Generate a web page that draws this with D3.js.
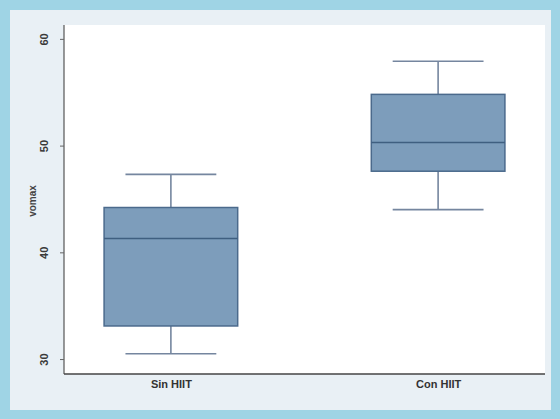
<!DOCTYPE html>
<html><head><meta charset="utf-8">
<script src="https://cdn.jsdelivr.net/npm/d3@7"></script>
<style>html,body{margin:0;padding:0;background:#9fd4e5;}svg{display:block;}</style>
</head><body>
<script>
const categories = ["Sin HIIT", "Con HIIT"];
const whiskerLow = [30.5, 44.0];
const q1 = [33.1, 47.6];
const median = [41.3, 50.3];
const q3 = [44.2, 54.8];
const whiskerHigh = [47.3, 57.9];
const yTicks = [30, 40, 50, 60];
const yLabel = "vomax";

const W = 560, H = 419;
const svg = d3.select("body").append("svg").attr("width", W).attr("height", H);
svg.append("rect").attr("width", W).attr("height", H).attr("fill", "#9fd4e5");
svg.append("rect").attr("x", 10).attr("y", 10).attr("width", 541).attr("height", 400).attr("fill", "#e9f0f5");
const plot = {l: 64, r: 545, t: 25, b: 374};
svg.append("rect").attr("x", plot.l).attr("y", plot.t).attr("width", plot.r - plot.l).attr("height", plot.b - plot.t).attr("fill", "#ffffff");

const y = d3.scaleLinear().domain([28.6, 61.3]).range([plot.b, plot.t]);
const x = d3.scalePoint().domain(categories).range([plot.l, plot.r]).padding(0.4);
const boxW = x.step() * 0.5;
const capW = x.step() * 0.34;

// Y axis
const yAxis = d3.axisLeft(y).tickValues(yTicks).tickSize(4).tickSizeOuter(0).tickFormat(d3.format("d"));
const ga = svg.append("g").attr("transform", `translate(${plot.l},0)`).call(yAxis);
ga.select(".domain").attr("stroke", "#555").attr("stroke-width", 1.2)
  .attr("d", `M0,${plot.t}V${plot.b}`);
ga.selectAll(".tick line").attr("stroke", "#666");
ga.selectAll(".tick text").attr("x", 0).attr("dy", 0)
  .attr("transform", "translate(-16,0) rotate(-90)")
  .attr("text-anchor", "middle")
  .style("font-family", "Liberation Sans, Arial, sans-serif").style("font-size", "11px").style("font-weight", "bold").attr("fill", "#3a3a3a");

// X axis
const xAxis = d3.axisBottom(x).tickSize(0).tickSizeOuter(0);
const gx = svg.append("g").attr("transform", `translate(0,${plot.b})`).call(xAxis);
gx.select(".domain").attr("stroke", "#444").attr("stroke-width", 1.5).attr("d", `M${plot.l},0H${plot.r}`);
gx.selectAll(".tick text").attr("dy", 0).attr("y", 14)
  .style("font-family", "Liberation Sans, Arial, sans-serif").style("font-size", "11px").style("font-weight", "bold").attr("fill", "#333");

svg.append("text").attr("transform", `translate(36,${(y(30)+y(60))/2+2}) rotate(-90)`)
  .attr("text-anchor", "middle")
  .style("font-family", "Liberation Sans, Arial, sans-serif").style("font-size", "10px").style("font-weight", "bold").attr("fill", "#444").text(yLabel);

const data = categories.map((c, i) => ({c, lo: whiskerLow[i], q1: q1[i], med: median[i], q3: q3[i], hi: whiskerHigh[i]}));
const g = svg.selectAll(".box").data(data).enter().append("g");
const wcol = "#75869f";
g.append("line").attr("x1", d => x(d.c)).attr("x2", d => x(d.c)).attr("y1", d => y(d.hi)).attr("y2", d => y(d.q3)).attr("stroke", wcol).attr("stroke-width", 1.6);
g.append("line").attr("x1", d => x(d.c)).attr("x2", d => x(d.c)).attr("y1", d => y(d.q1)).attr("y2", d => y(d.lo)).attr("stroke", wcol).attr("stroke-width", 1.6);
g.append("line").attr("x1", d => x(d.c) - capW/2).attr("x2", d => x(d.c) + capW/2).attr("y1", d => y(d.hi)).attr("y2", d => y(d.hi)).attr("stroke", wcol).attr("stroke-width", 1.6);
g.append("line").attr("x1", d => x(d.c) - capW/2).attr("x2", d => x(d.c) + capW/2).attr("y1", d => y(d.lo)).attr("y2", d => y(d.lo)).attr("stroke", wcol).attr("stroke-width", 1.6);
g.append("rect").attr("x", d => x(d.c) - boxW/2).attr("width", boxW)
  .attr("y", d => y(d.q3)).attr("height", d => y(d.q1) - y(d.q3))
  .attr("fill", "#7d9dbb").attr("stroke", "#4b6a8c").attr("stroke-width", 1.5);
g.append("line").attr("x1", d => x(d.c) - boxW/2).attr("x2", d => x(d.c) + boxW/2).attr("y1", d => y(d.med)).attr("y2", d => y(d.med)).attr("stroke", "#3f5f80").attr("stroke-width", 1.5);
</script>
</body></html>
